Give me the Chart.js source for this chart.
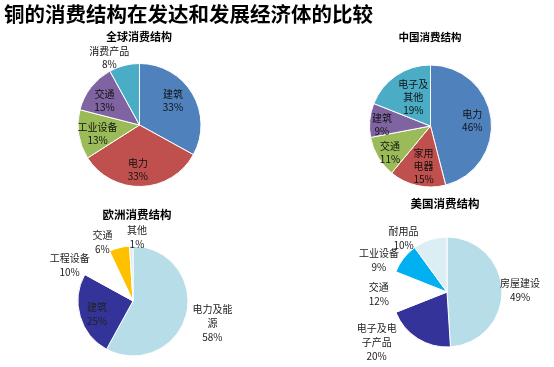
<!DOCTYPE html>
<html>
<head>
<meta charset="utf-8">
<script src="https://cdn.jsdelivr.net/npm/chart.js@4.4.0/dist/chart.umd.min.js"></script>
<style>
  html, body { margin: 0; padding: 0; background: #fff; }
  #page { position: relative; width: 554px; height: 367px; overflow: hidden; font-family: "Noto Sans CJK SC", sans-serif; }
  #page canvas { position: absolute; left: 0; top: 0; }
  .main-title { position: absolute; left: 4px; top: 1px; font-size: 20.5px; font-weight: bold; line-height: 24px; color: #000; white-space: nowrap; }
  .sub-title { position: absolute; font-weight: bold; color: #000; white-space: nowrap; line-height: 1; transform: translate(-50%, -50%); }
</style>
</head>
<body>
<div id="page">
  <canvas id="worldChart" width="554" height="367"></canvas>
  <canvas id="chinaChart" width="554" height="367"></canvas>
  <canvas id="europeChart" width="554" height="367"></canvas>
  <canvas id="usChart" width="554" height="367"></canvas>
  <div class="main-title">铜的消费结构在发达和发展经济体的比较</div>
  <div class="sub-title" style="left:139px;top:36px;font-size:11px;">全球消费结构</div>
  <div class="sub-title" style="left:430px;top:37px;font-size:10.5px;">中国消费结构</div>
  <div class="sub-title" style="left:137px;top:215px;font-size:11.5px;">欧洲消费结构</div>
  <div class="sub-title" style="left:445px;top:204px;font-size:11.5px;">美国消费结构</div>
</div>
<script>
(function () {
  "use strict";

  // data
  const worldLabels = ["建筑", "电力", "工业设备", "交通", "消费产品"];
  const worldValues = [33, 33, 13, 13, 8];

  const chinaLabels = ["电力", "家用电器", "交通", "建筑", "电子及其他"];
  const chinaValues = [46, 15, 11, 9, 19];

  const europeLabels = ["电力及能源", "建筑", "工程设备", "交通", "其他"];
  const europeValues = [58, 25, 10, 6, 1];

  const usLabels = ["房屋建设", "电子及电子产品", "交通", "工业设备", "耐用品"];
  const usValues = [49, 20, 12, 9, 10];

  const W = 554;
  const H = 367;

  const officeColors = ["#4F81BD", "#C0504D", "#9BBB59", "#8064A2", "#4BACC6"];
  const europeColors = ["#B7DEE8", "#333399", "#FFFFFF", "#FFC000", "#DAEEF3"];
  const usColors = ["#B7DEE8", "#333399", "#FFFFFF", "#00B0F0", "#DAEEF3"];

  // label placement: [radius factor, dx, dy, wrap chars]
  const worldPlace = [[0.67, -2, -3, 4], [0.73, -3, 0, 4], [0.69, 0, 2, 4], [0.7, -1, 2, 4], [1.19, -12, 4, 4]];
  const chinaPlace = [[0.69, 0, 0, 4], [0.67, 2, 0, 2], [0.79, 1, 2, 4], [0.8, 0, 3, 4], [0.56, 2, -1, 3]];
  const europePlace = [[1.49, 0, 2, 4], [0.68, 0, 3, 4], [1.31, -14, 17, 4], [1.21, -14, 6, 4], [1.16, 6, 0, 4]];
  const usPlace = [[1.33, 0, 1, 4], [1.2, -35, -6, 4], [1.24, 0, 2, 4], [1.36, -9, 14, 4], [1.26, -22, 12, 4]];

  function wrapText(s, n) {
    const out = [];
    for (let i = 0; i < s.length; i += n) out.push(s.slice(i, i + n));
    return out;
  }

  function makeLabelPlugin(place, style) {
    return {
      id: "sliceLabels",
      afterDatasetsDraw: function (chart) {
        const ctx = chart.ctx;
        const meta = chart.getDatasetMeta(0);
        const labels = chart.data.labels;
        const values = chart.data.datasets[0].data;
        ctx.save();
        ctx.font = style.font;
        ctx.fillStyle = style.color;
        ctx.textAlign = "center";
        ctx.textBaseline = "middle";
        meta.data.forEach(function (arc, i) {
          const p = arc.getProps(["x", "y", "startAngle", "endAngle", "outerRadius"], true);
          const mid = (p.startAngle + p.endAngle) / 2;
          const pl = place[i];
          const x = p.x + Math.cos(mid) * p.outerRadius * pl[0] + pl[1];
          const y = p.y + Math.sin(mid) * p.outerRadius * pl[0] + pl[2];
          const lines = wrapText(labels[i], pl[3]);
          lines.push(values[i] + "%");
          const top = y - (lines.length - 1) * style.lineHeight / 2;
          lines.forEach(function (t, k) {
            ctx.fillText(t, x, top + k * style.lineHeight);
          });
        });
        ctx.restore();
      }
    };
  }

  function makePie(id, labels, values, colors, box, place, style) {
    const canvas = document.getElementById(id);
    return new Chart(canvas, {
      type: "pie",
      data: {
        labels: labels,
        datasets: [{
          data: values,
          backgroundColor: colors,
          borderColor: "#FFFFFF",
          borderWidth: 1,
          hoverOffset: 0,
          radius: box.r
        }]
      },
      options: {
        responsive: false,
        animation: false,
        events: [],
        layout: {
          padding: {
            left: box.cx - box.r,
            top: box.cy - box.r,
            right: W - box.cx - box.r,
            bottom: H - box.cy - box.r
          }
        },
        plugins: {
          legend: { display: false },
          tooltip: { enabled: false }
        }
      },
      plugins: [makeLabelPlugin(place, style)]
    });
  }

  const topStyle = { font: "10px 'Noto Sans CJK SC', sans-serif", color: "#111", lineHeight: 13 };
  const bottomStyle = { font: "10px 'Noto Sans CJK SC', sans-serif", color: "#222", lineHeight: 14 };

  makePie("worldChart", worldLabels, worldValues, officeColors, { cx: 139.5, cy: 125, r: 61.5 }, worldPlace, topStyle);
  makePie("chinaChart", chinaLabels, chinaValues, officeColors, { cx: 430.5, cy: 126, r: 61 }, chinaPlace, topStyle);
  makePie("europeChart", europeLabels, europeValues, europeColors, { cx: 133, cy: 301, r: 55 }, europePlace, bottomStyle);
  makePie("usChart", usLabels, usValues, usColors, { cx: 447, cy: 292, r: 55 }, usPlace, bottomStyle);
})();
</script>
</body>
</html>
